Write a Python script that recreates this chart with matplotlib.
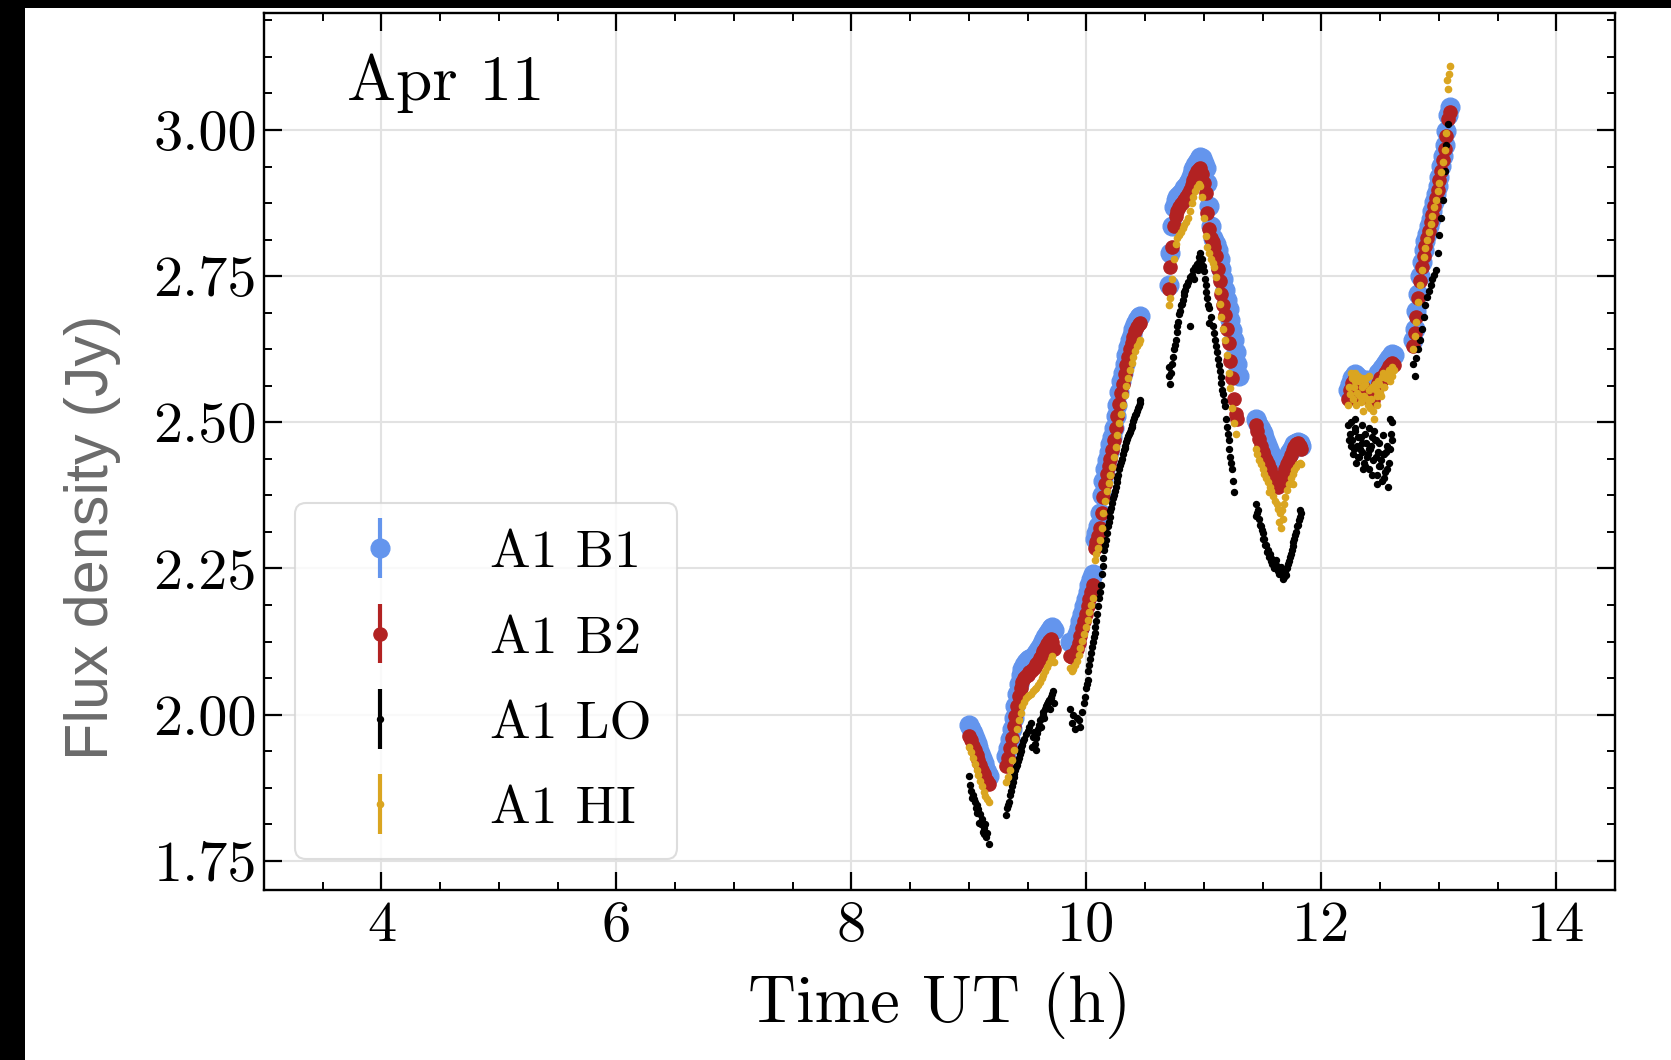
import numpy as np
import matplotlib
matplotlib.use("Agg")
import matplotlib.pyplot as plt
from matplotlib.ticker import MultipleLocator, FormatStrFormatter
from matplotlib.patches import Rectangle
from matplotlib.container import ErrorbarContainer
from matplotlib.legend_handler import HandlerErrorbar

nan = np.nan

# ---------------- data ----------------
time_h = [
    # segment 1
    9.005, 9.020, 9.035, 9.050, 9.065, 9.080, 9.095, 9.110, 9.125, 9.140, 9.155, 9.170,
    # segment 2
    9.320, 9.335, 9.350, 9.365, 9.380, 9.395, 9.410, 9.425, 9.440, 9.455, 9.470, 9.485, 9.500, 9.515,
    9.530, 9.545, 9.560, 9.575, 9.590, 9.605, 9.620, 9.635, 9.650, 9.665, 9.680, 9.695, 9.710, 9.725,
    # segment 3
    9.860, 9.875, 9.890, 9.905, 9.920, 9.935, 9.950, 9.965, 9.980, 9.995, 10.010, 10.025, 10.040, 10.055,
    10.070, 10.085, 10.100, 10.115, 10.130, 10.145, 10.160, 10.175, 10.190, 10.205, 10.220, 10.235, 10.250,
    10.265, 10.280, 10.295, 10.310, 10.325, 10.340, 10.355, 10.370, 10.385, 10.400, 10.415, 10.430, 10.445, 10.460,
    # segment 4
    10.700, 10.715, 10.730, 10.745, 10.760, 10.775, 10.790, 10.805, 10.820, 10.835, 10.850, 10.865, 10.880,
    10.895, 10.910, 10.925, 10.940, 10.955, 10.970, 10.985, 11.000, 11.015, 11.030, 11.045, 11.060, 11.075,
    11.090, 11.105, 11.120, 11.135, 11.150, 11.165, 11.180, 11.195, 11.210, 11.225, 11.240, 11.255, 11.270,
    11.285, 11.300,
    # segment 5
    11.440, 11.455, 11.470, 11.485, 11.500, 11.515, 11.530, 11.545, 11.560, 11.575, 11.590, 11.605, 11.620,
    11.635, 11.650, 11.665, 11.680, 11.695, 11.710, 11.725, 11.740, 11.755, 11.770, 11.785, 11.800, 11.815, 11.830,
    # segment 6
    12.230, 12.245, 12.260, 12.275, 12.290, 12.305, 12.320, 12.335, 12.350, 12.365, 12.380, 12.395, 12.410,
    12.425, 12.440, 12.455, 12.470, 12.485, 12.500, 12.515, 12.530, 12.545, 12.560, 12.575, 12.590, 12.605, 12.620,
    # segment 7
    12.780, 12.795, 12.810, 12.825, 12.840, 12.855, 12.870, 12.885, 12.900, 12.915, 12.930, 12.945, 12.960,
    12.975, 12.990, 13.005, 13.020, 13.035, 13.050, 13.065, 13.080, 13.095,
]

flux_b1 = [
    1.982, 1.976, 1.968, 1.960, 1.952, 1.944, 1.935, 1.926, 1.917, 1.909, 1.901, 1.895,
    1.930, 1.942, 1.958, 1.975, 1.995, 2.015, 2.035, 2.052, 2.068, 2.078, 2.085, 2.090, 2.093, 2.095,
    2.097, 2.099, 2.102, 2.106, 2.110, 2.115, 2.120, 2.126, 2.132, 2.138, 2.143, 2.148, 2.150, 2.145,
    2.125, 2.122, 2.124, 2.130, 2.138, 2.148, 2.160, 2.172, 2.185, 2.198, 2.210, 2.222, 2.232, 2.240,
    2.300, 2.310, 2.322, 2.345, 2.375, 2.400, 2.420, 2.435, 2.450, 2.462, 2.475, 2.490, 2.510,
    2.530, 2.552, 2.570, 2.585, 2.600, 2.615, 2.628, 2.640, 2.650, 2.660, 2.668, 2.675, 2.680, 2.682,
    2.735, 2.790, 2.835, 2.868, 2.880, 2.885, 2.888, 2.892, 2.896, 2.900, 2.904, 2.909, 2.916,
    2.925, 2.933, 2.940, 2.946, 2.951, 2.954, 2.952, 2.944, 2.935, 2.910, 2.870, 2.835, 2.815,
    2.810, 2.805, 2.795, 2.780, 2.762, 2.745, 2.727, 2.710, 2.693, 2.675, 2.658, 2.640, 2.620,
    2.600, 2.580,
    2.505, 2.500, 2.494, 2.488, 2.481, 2.474, 2.466, 2.458, 2.450, 2.442, 2.434, 2.428, 2.424,
    2.420, 2.418, 2.420, 2.426, 2.433, 2.440, 2.447, 2.453, 2.458, 2.462, 2.465, 2.466, 2.464, 2.460,
    2.555, 2.565, 2.575, 2.580, 2.582, 2.580, 2.575, 2.570, 2.568, 2.570, 2.572, 2.570, 2.566,
    2.565, 2.568, 2.572, 2.578, 2.584, 2.588, 2.592, 2.596, 2.600, 2.605, 2.610, 2.614, 2.617, 2.615,
    2.640, 2.660, 2.690, 2.720, 2.750, 2.775, 2.795, 2.810, 2.822, 2.835, 2.848, 2.862, 2.876,
    2.890, 2.905, 2.920, 2.938, 2.955, 2.975, 2.998, 3.025, 3.040,
]

flux_b2 = [
    1.963, 1.956, 1.947, 1.939, 1.931, 1.922, 1.914, 1.905, 1.898, 1.892, 1.886, 1.882,
    1.912, 1.925, 1.942, 1.960, 1.980, 1.998, 2.015, 2.032, 2.046, 2.056, 2.062, 2.066, 2.068, 2.072,
    2.075, 2.078, 2.082, 2.086, 2.090, 2.096, 2.102, 2.108, 2.114, 2.120, 2.126, 2.129, 2.124, 2.112,
    2.100, 2.098, 2.100, 2.105, 2.112, 2.122, 2.135, 2.148, 2.160, 2.172, 2.185, 2.198, 2.210, 2.222,
    2.285, 2.295, 2.305, 2.320, 2.345, 2.372, 2.395, 2.412, 2.425, 2.438, 2.452, 2.470, 2.490,
    2.510, 2.532, 2.550, 2.566, 2.582, 2.598, 2.612, 2.625, 2.636, 2.646, 2.656, 2.663, 2.668, 2.670,
    2.728, 2.765, 2.800, 2.835, 2.852, 2.862, 2.868, 2.873, 2.877, 2.880, 2.885, 2.890, 2.897,
    2.906, 2.915, 2.923, 2.929, 2.934, 2.935, 2.925, 2.910, 2.893, 2.858, 2.830, 2.815, 2.808,
    2.800, 2.785, 2.762, 2.742, 2.720, 2.700, 2.683, 2.660, 2.635, 2.605, 2.575, 2.540, 2.515,
    2.505, nan,
    2.495, 2.485, 2.472, 2.460, 2.450, 2.442, 2.435, 2.428, 2.420, 2.412, 2.404, 2.398, 2.392,
    2.390, 2.396, 2.404, 2.412, 2.420, 2.428, 2.436, 2.444, 2.452, 2.458, 2.462, 2.464, 2.460, 2.455,
    2.540, 2.555, 2.568, 2.572, 2.565, 2.555, 2.560, 2.545, 2.550, 2.558, 2.548, 2.542, 2.550,
    2.545, 2.538, 2.552, 2.560, 2.568, 2.575, 2.572, 2.580, 2.585, 2.590, 2.596, 2.600, 2.602, 2.598,
    2.630, 2.652, 2.680, 2.712, 2.742, 2.766, 2.785, 2.802, 2.815, 2.828, 2.842, 2.855, 2.870,
    2.884, 2.898, 2.914, 2.930, 2.948, 2.968, 2.990, 3.018, 3.030,
]

flux_lo = [
    1.895, 1.870, 1.862, 1.850, 1.845, 1.838, 1.830, 1.822, 1.806, 1.812, 1.798, 1.778,
    1.828, 1.845, 1.862, 1.878, 1.893, 1.905, 1.914, 1.925, 1.938, 1.948, 1.958, 1.966, 1.972, 1.978,
    1.985, 1.962, 1.950, 1.960, 1.975, 1.990, 1.995, 2.000, 2.010, 2.018, 2.025, 2.030, 2.036, 2.020,
    2.010, 1.985, 2.000, 1.975, 1.995, 1.990, 1.978, 2.005, 2.020, 2.045, 2.060, 2.085, 2.105, 2.125,
    2.140, 2.160, 2.185, 2.210, 2.240, 2.268, 2.290, 2.310, 2.330, 2.348, 2.362, 2.375, 2.390,
    2.405, 2.420, 2.432, 2.445, 2.456, 2.466, 2.476, 2.484, 2.492, 2.502, 2.512, 2.520, 2.528, 2.538,
    2.580, 2.565, 2.600, 2.625, 2.640, 2.665, 2.685, 2.700, 2.710, 2.722, 2.733, 2.740, 2.748,
    2.752, 2.760, 2.765, 2.770, 2.782, 2.790, 2.780, 2.758, 2.735, 2.712, 2.695, 2.680, 2.665,
    2.652, 2.630, 2.608, 2.588, 2.567, 2.548, 2.527, 2.492, 2.470, 2.440, 2.420, 2.380, nan,
    nan, nan,
    2.360, 2.345, 2.335, 2.322, 2.310, 2.300, 2.290, 2.282, 2.275, 2.268, 2.262, 2.258, 2.255,
    2.250, 2.245, 2.240, 2.236, 2.242, 2.250, 2.262, 2.275, 2.288, 2.300, 2.312, 2.325, 2.338, 2.345,
    2.495, 2.480, 2.470, 2.455, 2.485, 2.460, 2.440, 2.475, 2.450, 2.430, 2.465, 2.445, 2.420,
    2.460, 2.435, 2.470, 2.410, 2.450, 2.425, 2.400, 2.445, 2.415, 2.460, 2.430, 2.480, 2.500, nan,
    2.600, 2.580, 2.610, 2.625, 2.640, 2.660, 2.680, 2.700, 2.715, 2.725, 2.735, 2.745, 2.752,
    2.760, 2.790, 2.820, 2.850, 2.880, 2.930, 2.975, 3.010, nan,
]

flux_hi = [
    1.945, 1.936, 1.925, 1.915, 1.905, 1.896, 1.887, 1.877, 1.868, 1.861, 1.855, 1.850,
    1.885, 1.893, 1.905, 1.922, 1.940, 1.958, 1.975, 1.990, 2.003, 2.014, 2.022, 2.028, 2.032, 2.034,
    2.036, 2.040, 2.044, 2.046, 2.050, 2.056, 2.062, 2.068, 2.075, 2.082, 2.088, 2.095, 2.100, 2.090,
    2.080, 2.075, 2.078, 2.085, 2.092, 2.102, 2.114, 2.126, 2.138, 2.150, 2.162, 2.175, 2.188, 2.200,
    2.265, 2.275, 2.285, 2.298, 2.320, 2.345, 2.366, 2.382, 2.396, 2.410, 2.424, 2.440, 2.458,
    2.478, 2.498, 2.515, 2.530, 2.546, 2.562, 2.576, 2.590, 2.602, 2.612, 2.622, 2.630, 2.636, 2.640,
    2.700, 2.712, 2.745, 2.780, 2.805, 2.815, 2.820, 2.826, 2.832, 2.837, 2.842, 2.850, 2.862,
    2.875, 2.885, 2.895, 2.903, 2.908, 2.905, 2.885, 2.850, 2.818, 2.800, 2.790, 2.780, 2.772,
    2.765, 2.748, 2.725, 2.702, 2.680, 2.660, 2.640, 2.615, 2.585, 2.558, 2.525, 2.498, 2.480,
    nan, nan,
    2.455, 2.445, 2.436, 2.428, 2.420, 2.412, 2.405, 2.398, 2.390, 2.382, 2.374, 2.366, 2.360,
    2.352, 2.345, 2.350, 2.360, 2.372, 2.385, 2.395, 2.405, 2.412, 2.418, 2.424, 2.428, 2.430, 2.428,
    2.530, 2.548, 2.575, 2.560, 2.585, 2.550, 2.570, 2.535, 2.560, 2.545, 2.575, 2.530, 2.555,
    2.540, 2.520, 2.565, 2.545, 2.570, 2.550, 2.578, 2.560, 2.580, 2.575, 2.590, 2.585, 2.595, 2.590,
    2.625, 2.648, 2.672, 2.705, 2.735, 2.760, 2.782, 2.798, 2.812, 2.825, 2.840, 2.852, 2.868,
    2.880, 2.895, 2.910, 2.928, 2.945, 2.965, 2.995, 3.070, 3.110,
]

# additional, denser LO samples (the black band / clouds)
time_lo_extra = [
    9.0125, 9.0275, 9.0425, 9.0575, 9.0725, 9.0875, 9.1025, 9.1175, 9.1325, 9.1475,
    9.3275, 9.3425, 9.3575, 9.3725, 9.3875, 9.4025, 9.4175, 9.4325, 9.4475, 9.4625,
    9.5375, 9.5525, 9.5675, 9.5825, 9.5975, 9.6125, 9.6275, 9.6425, 9.6575, 9.6725, 9.6875, 9.7025, 9.7175,
    9.9875, 10.0025, 10.0175, 10.0325, 10.0475, 10.0625, 10.0775, 10.0925,
    10.1075, 10.1225, 10.1375, 10.1525, 10.1675, 10.1825, 10.1975, 10.2125, 10.2275, 10.2425, 10.2575,
    10.2725, 10.2875, 10.3025, 10.3175, 10.3325, 10.3475, 10.3625, 10.3775, 10.3925, 10.4075, 10.4225,
    10.4375, 10.4525,
    10.7075, 10.7225, 10.7375, 10.7525, 10.7675, 10.7825, 10.7975, 10.8125, 10.8275, 10.8425, 10.8575,
    10.8800, 10.9175, 10.9475, 10.9625, 10.9775, 10.9925, 11.0075, 11.0225, 11.0375, 11.0400, 11.0975,
    11.1125, 11.1275, 11.1425, 11.1575, 11.1725, 11.1875, 11.2025, 11.2175, 11.2325, 11.2475,
    11.4475, 11.4625, 11.4775, 11.4925, 11.5075, 11.5225, 11.5375, 11.5525, 11.5675, 11.5825, 11.5975,
    11.6125, 11.6275, 11.6425, 11.6575, 11.6725, 11.6875, 11.7025, 11.7175, 11.7325, 11.7475, 11.7625,
    11.7775, 11.7925, 11.8075, 11.8225,
    12.2375, 12.2525, 12.2675, 12.2825, 12.2975, 12.3125, 12.3275, 12.3425, 12.3575, 12.3725, 12.3875,
    12.4025, 12.4175, 12.4325, 12.4475, 12.4625, 12.4775, 12.4925, 12.5075, 12.5225, 12.5375, 12.5525,
    12.5675, 12.5825, 12.5975,
    12.255, 12.285, 12.315, 12.345, 12.375, 12.405, 12.435, 12.465, 12.495, 12.525, 12.555, 12.585,
]
flux_lo_extra = [
    1.880, 1.858, 1.855, 1.840, 1.832, 1.815, 1.812, 1.800, 1.795, 1.790,
    1.840, 1.850, 1.870, 1.885, 1.898, 1.910, 1.920, 1.932, 1.945, 1.955,
    1.945, 1.970, 1.940, 1.968, 1.982, 1.978, 2.005, 1.995, 2.015, 2.022, 2.010, 2.028, 2.040,
    2.030, 2.052, 2.075, 2.095, 2.115, 2.133, 2.150, 2.172,
    2.200, 2.222, 2.255, 2.282, 2.298, 2.322, 2.338, 2.353, 2.370, 2.383, 2.398,
    2.410, 2.427, 2.437, 2.452, 2.460, 2.472, 2.480, 2.489, 2.496, 2.508, 2.515,
    2.525, 2.533,
    2.595, 2.585, 2.612, 2.632, 2.655, 2.672, 2.690, 2.703, 2.718, 2.727, 2.735,
    2.665, 2.745, 2.760, 2.775, 2.770, 2.768, 2.745, 2.722, 2.700, 2.670, 2.640,
    2.620, 2.598, 2.578, 2.556, 2.536, 2.505, 2.480, 2.455, 2.430, 2.400,
    2.340, 2.350, 2.325, 2.315, 2.300, 2.290, 2.278, 2.270, 2.262, 2.258, 2.250,
    2.264, 2.246, 2.240, 2.252, 2.232, 2.245, 2.238, 2.258, 2.270, 2.282, 2.296,
    2.308, 2.322, 2.332, 2.350,
    2.470, 2.500, 2.445, 2.490, 2.430, 2.475, 2.455, 2.495, 2.420, 2.480, 2.440,
    2.490, 2.455, 2.410, 2.485, 2.440, 2.395, 2.465, 2.435, 2.478, 2.405, 2.450,
    2.390, 2.505, 2.470,
    2.460, 2.505, 2.440, 2.465, 2.425, 2.455, 2.475, 2.470, 2.425, 2.445, 2.420, 2.455,
]

# additional HI samples (scatter in the late segments)
time_hi_extra = [
    11.5525, 11.6425, 11.6575, 11.6725, 11.7625,
    12.2375, 12.2525, 12.2675, 12.2825, 12.2975, 12.3125, 12.3275, 12.3425, 12.3575, 12.3725, 12.3875,
    12.4025, 12.4175, 12.4325, 12.4475, 12.4625, 12.4775, 12.4925, 12.5075, 12.5225, 12.5375, 12.5525,
    12.5675, 12.5825, 12.5975,
    13.0725, 13.0875,
]
flux_hi_extra = [
    2.380, 2.330, 2.320, 2.335, 2.395,
    2.560, 2.585, 2.540, 2.570, 2.530, 2.580, 2.545, 2.575, 2.520, 2.565, 2.540,
    2.580, 2.525, 2.560, 2.505, 2.555, 2.530, 2.565, 2.545, 2.585, 2.560, 2.575,
    2.585, 2.570, 2.580,
    3.085, 3.095,
]

# flux uncertainties (Jy), small compared with the markers
err_b1 = 0.004
err_b2 = 0.004
err_lo = 0.003
err_hi = 0.003

series_labels = ["A1 B1", "A1 B2", "A1 LO", "A1 HI"]
x_ticks = [4, 6, 8, 10, 12, 14]
y_ticks = [1.75, 2.00, 2.25, 2.50, 2.75, 3.00]
panel_label = "Apr 11"

# ---------------- style ----------------
plt.rcParams["font.family"] = "serif"
plt.rcParams["font.serif"] = ["cmr10", "DejaVu Serif"]
plt.rcParams["mathtext.fontset"] = "cm"
plt.rcParams["axes.formatter.use_mathtext"] = True

fig = plt.figure(figsize=(16.71, 10.60), dpi=100)
fig.patch.set_facecolor("white")
# black frame strips visible at the left and top of the reference image
fig.patches.append(Rectangle((0, 0), 25 / 1671, 1, transform=fig.transFigure,
                             facecolor="black", edgecolor="none", zorder=-10))
fig.patches.append(Rectangle((0, 1 - 8 / 1060), 1, 8 / 1060, transform=fig.transFigure,
                             facecolor="black", edgecolor="none", zorder=-10))

ax = fig.add_axes([0.158, 0.1604, 0.8085, 0.8273])

t_main = np.array(time_h)
t_lo = np.concatenate([t_main, np.array(time_lo_extra)])
f_lo = np.concatenate([np.array(flux_lo), np.array(flux_lo_extra)])
t_hi = np.concatenate([t_main, np.array(time_hi_extra)])
f_hi = np.concatenate([np.array(flux_hi), np.array(flux_hi_extra)])

styles = [
    (t_main, np.array(flux_b1), err_b1, "#6495ED", 13.5),
    (t_main, np.array(flux_b2), err_b2, "#B22222", 9.5),
    (t_lo, f_lo, err_lo, "black", 4.3),
    (t_hi, f_hi, err_hi, "#DAA520", 4.5),
]
for (tt, vals, err, col, ms), lab in zip(styles, series_labels):
    ax.errorbar(tt, vals, yerr=err, fmt="o", color=col, ms=ms,
                mec=col, elinewidth=3, capsize=0, label=lab, zorder=3)

ax.set_xlim(3.0, 14.5)
ax.set_ylim(1.70, 3.20)
ax.set_xticks(x_ticks)
ax.set_yticks(y_ticks)
ax.xaxis.set_minor_locator(MultipleLocator(0.5))
ax.yaxis.set_minor_locator(MultipleLocator(0.0625))
ax.yaxis.set_major_formatter(FormatStrFormatter("%.2f"))
ax.xaxis.set_major_formatter(FormatStrFormatter("%d"))

ax.tick_params(which="both", direction="in", top=True, right=True)
ax.tick_params(which="major", length=13, width=1.6, labelsize=42)
ax.tick_params(which="minor", length=6, width=1.4)
ax.tick_params(axis="x", which="major", pad=8)
ax.tick_params(axis="y", which="major", pad=5)
for sp in ax.spines.values():
    sp.set_linewidth(1.7)

ax.grid(True, which="major", color="#e2e2e2", linewidth=1.5, zorder=0)
ax.set_axisbelow(True)

ax.set_xlabel("Time UT (h)", fontsize=48, va="baseline")
ax.xaxis.set_label_coords(0.5, -0.1505)
ax.set_ylabel("Flux density (Jy)", fontsize=44, color="#6b6b6b",
              family=["Liberation Sans", "DejaVu Sans"], va="center")
ax.yaxis.set_label_coords(-0.1273, 0.402)

ax.text(0.0614, 0.9008, panel_label, transform=ax.transAxes, fontsize=47,
        va="baseline", ha="left")

leg = ax.legend(loc="lower left", fontsize=39, frameon=True, fancybox=True,
                borderaxespad=0.57, borderpad=0.48, labelspacing=0.69,
                handlelength=2.18, handletextpad=0.94,
                handler_map={ErrorbarContainer: HandlerErrorbar(xerr_size=0.55)})
leg.get_frame().set_edgecolor("#d5d5d5")
leg.get_frame().set_linewidth(1.5)

fig.savefig("out.png", dpi=100, facecolor=fig.get_facecolor())
